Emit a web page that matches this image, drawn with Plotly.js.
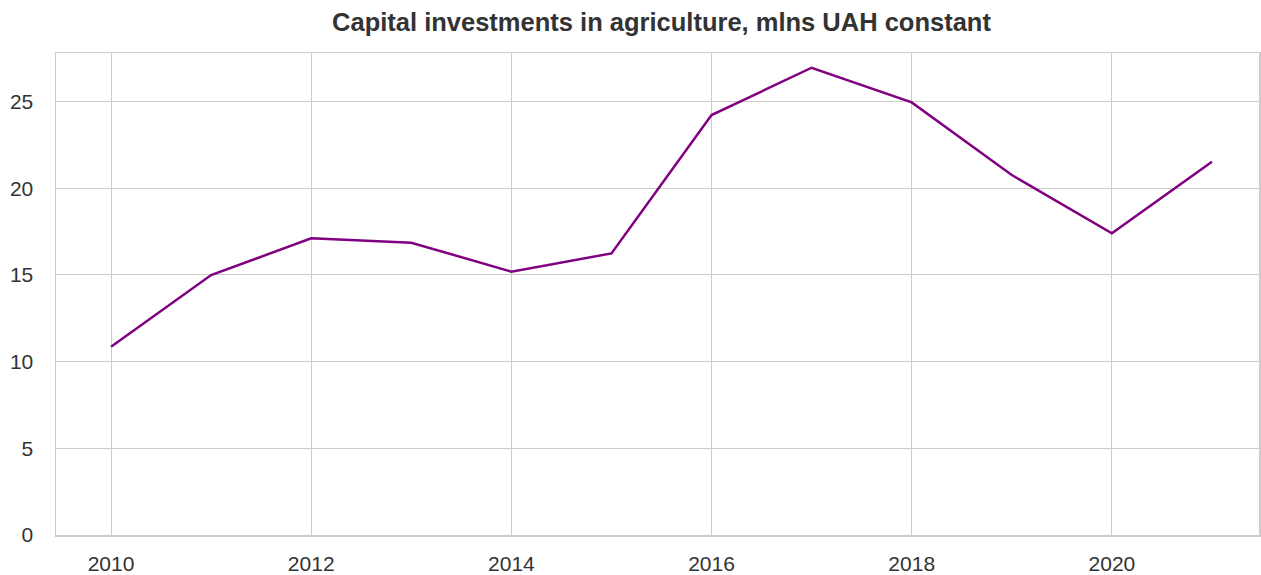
<!DOCTYPE html>
<html>
<head>
<meta charset="utf-8">
<script src="https://cdn.plot.ly/plotly-3.0.1.min.js"></script>
<style>html,body{margin:0;padding:0;background:#fff;}#chart{width:1261px;height:575px;}</style>
</head>
<body>
<div id="chart"></div>
<script>
const years = [2010, 2011, 2012, 2013, 2014, 2015, 2016, 2017, 2018, 2019, 2020, 2021];
const investments = [10.86, 14.99, 17.11, 16.86, 15.19, 16.24, 24.22, 26.95, 24.95, 20.76, 17.40, 21.53];
const chartTitle = "Capital investments in agriculture, mlns UAH constant";

const trace = {
  x: years,
  y: investments,
  type: "scatter",
  mode: "lines",
  line: {color: "#800080", width: 2.5},
  hoverinfo: "x+y"
};

const axisCommon = {
  showgrid: true,
  gridcolor: "#cccccc",
  gridwidth: 1,
  showline: true,
  linecolor: "#cccccc",
  linewidth: 1.5,
  mirror: true,
  zeroline: false,
  ticks: "",
  tickfont: {family: "Liberation Sans, Arial, sans-serif", size: 21, color: "#333333"}
};

const layout = {
  width: 1261,
  height: 575,
  margin: {l: 56, r: 2, t: 53, b: 40},
  paper_bgcolor: "#ffffff",
  plot_bgcolor: "#ffffff",
  showlegend: false,
  title: {
    text: "<b>" + chartTitle + "</b>",
    x: 0.5246,
    xanchor: "center",
    y: 0.962,
    yanchor: "middle",
    font: {family: "Liberation Sans, Arial, sans-serif", size: 25.5, color: "#333333"}
  },
  xaxis: Object.assign({}, axisCommon, {
    range: [2009.45, 2021.47],
    tick0: 2010,
    dtick: 2,
    ticklabelstandoff: 9
  }),
  yaxis: Object.assign({}, axisCommon, {
    range: [0, 27.8],
    tick0: 0,
    dtick: 5,
    ticklabelstandoff: 17
  })
};

Plotly.newPlot("chart", [trace], layout, {displayModeBar: false, staticPlot: true});
</script>
</body>
</html>
